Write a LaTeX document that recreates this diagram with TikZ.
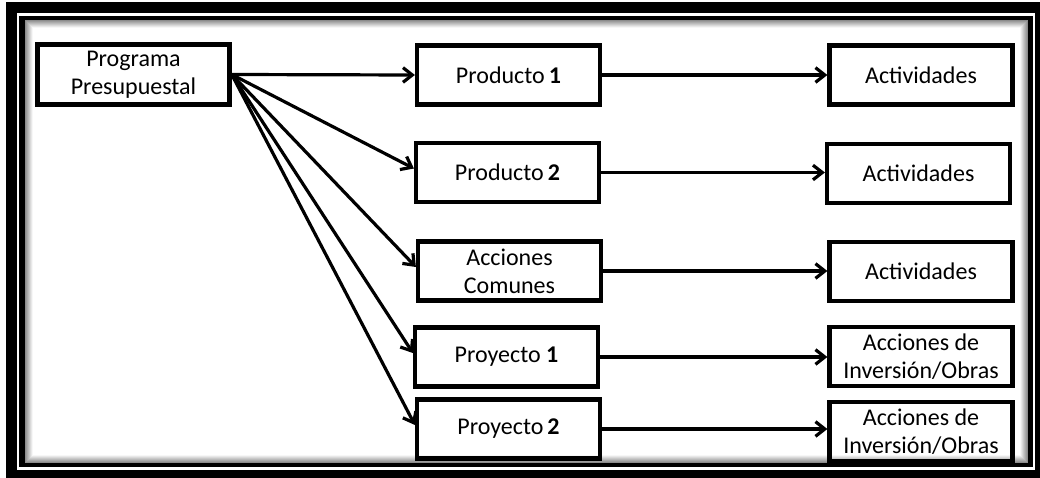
\documentclass[tikz,border=0pt]{standalone}
\usepackage{fontspec}
\setmainfont{Carlito}
\usetikzlibrary{arrows.meta}

\tikzset{
  caja/.style={draw, line width=3.4pt, inner sep=0pt, align=center,
    minimum width=137pt, minimum height=44pt, font=\fontsize{18}{21}\selectfont},
  flecha/.style={line width=2.4pt, -{Straight Barb[length=7pt,width=11pt]}}
}

\begin{document}
\begin{tikzpicture}[x=0.75pt, y=-0.75pt]
    \useasboundingbox (0,0) rectangle (1040,478);

    %Marco
    \fill (6,2) rectangle (1040,478);
    \fill[white] (17,13) rectangle (1035,470);
    \fill (19,16) rectangle (1033,467);
    \fill[white] (25,20) rectangle (1028,463);
    \foreach \i [evaluate=\i as \g using int(45-6*\i)] in {0,...,7}
      \draw[line width=0.75pt, black!\g] (25.5+\i,20.5+\i) rectangle (1027.5-\i,462.5-\i);

    \node[caja, minimum width=144pt, minimum height=45pt] (prog) at (133.5,74.5) {Programa\\Presupuestal};

    \node[caja] (p1) at (508.5,75) {Producto\,\textbf{1}};
    \node[caja] (p2) at (507.5,172.5) {Producto\,\textbf{2}};
    \node[caja] (ac) at (509.5,271) {Acciones\\Comunes};
    \node[caja] (py1) at (506.5,357) {Proyecto \textbf{1}};
    \node[caja] (py2) at (508.5,429) {Proyecto\,\textbf{2}};

    \node[caja] (a1) at (921,75) {Actividades};
    \node[caja] (a2) at (918.5,173.5) {Actividades};
    \node[caja] (a3) at (921,271.5) {Actividades};
    \node[caja] (i1) at (921,356.5) {Acciones de\\Inversión/Obras};
    \node[caja] (i2) at (921,431.5) {Acciones de\\Inversión/Obras};

    %Flechas
    \draw[flecha] (prog.east) -- (p1.west);
    \foreach \n in {p2,ac,py1,py2}
      \draw[flecha] (prog.east) -- ([yshift=3]\n.west);

    \draw[flecha] (p1.east) -- (a1.west);
    \draw[flecha] (p2.east) -- (p2.east -| a2.west);
    \draw[flecha] (ac.east) -- (ac.east -| a3.west);
    \draw[flecha] (py1.east) -- (py1.east -| i1.west);
    \draw[flecha] (py2.east) -- (py2.east -| i2.west);
  \end{tikzpicture}
\end{document}
